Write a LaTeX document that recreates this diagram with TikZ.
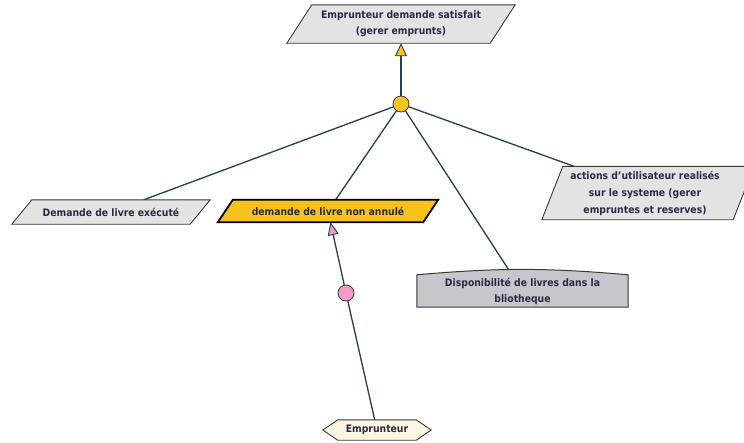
\documentclass[tikz,border=0pt]{standalone}
\usepackage{fontspec}
\setmainfont{DejaVu Sans Condensed}
\usetikzlibrary{arrows.meta}
\definecolor{linkcol}{HTML}{23404F}
\definecolor{edgecol}{HTML}{3A3A3A}
\definecolor{goalfill}{HTML}{E3E3E3}
\definecolor{selfill}{HTML}{F7C21B}
\definecolor{domfill}{HTML}{C6C6CC}
\definecolor{agentfill}{HTML}{FBF5E2}
\definecolor{andfill}{HTML}{F8C423}
\definecolor{opfill}{HTML}{F39BC6}
\definecolor{txtcol}{HTML}{2A2A44}
\pgfdeclarelayer{paper}
\pgfdeclarelayer{links}
\pgfdeclarelayer{shapes}
\pgfsetlayers{paper,links,shapes,main}

% outline of a slanted goal box around a text node
\newcommand\slantbox[3]{%
  \path[#3] ([xshift=#2]#1.north west) -- (#1.north east)
    -- ([xshift=-#2]#1.south east) -- (#1.south west) -- cycle;}
% outline of an agent hexagon around a text node
\newcommand\hexbox[3]{%
  \path[#3] (#1.west) -- ([xshift=#2]#1.north west) -- ([xshift=-#2]#1.north east)
    -- (#1.east) -- ([xshift=-#2]#1.south east) -- ([xshift=#2]#1.south west) -- cycle;}

\begin{document}
\begin{tikzpicture}[x=1pt,y=-1pt,
  txt/.style={inner sep=0pt, font=\bfseries\fontsize{10.3}{16}\selectfont, text=txtcol, align=center},
  goalshape/.style={fill=goalfill, draw=edgecol, line width=0.9pt},
  selshape/.style={fill=selfill, draw=black, line width=1.8pt, line join=miter},
  domshape/.style={fill=domfill, draw=edgecol, line width=1pt},
  agentshape/.style={fill=agentfill, draw=edgecol, line width=0.9pt},
  link/.style={draw=linkcol, line width=1.3pt},
  refine/.style={link, -{Triangle[length=13pt,width=12pt,line width=0.9pt,fill=andfill]}},
  assign/.style={link, -{Triangle[length=13pt,width=11pt,line width=0.9pt,fill=opfill]}},
  junction/.style={circle, minimum size=16pt, inner sep=0pt, draw=edgecol, line width=0.8pt}
]
\begin{pgfonlayer}{paper}
  \fill[white] (0,0) rectangle (744,442);
\end{pgfonlayer}
\useasboundingbox (0,0) rectangle (744,442);

% goals, domain property and agent
\node[txt, minimum width=228pt, minimum height=38pt] (top) at (401,24)
  {Emprunteur demande satisfait\\(gerer emprunts)};
\node[txt, minimum width=198pt, minimum height=24pt] (left) at (111,212)
  {Demande de livre exécuté};
\node[txt, minimum width=220pt, minimum height=22pt] (sel) at (328,211)
  {demande de livre non annulé};
\node[txt, minimum width=212pt, minimum height=53pt, font=\bfseries\fontsize{10.3}{17}\selectfont] (act) at (648,193)
  {\hspace*{-6pt}actions d'utilisateur realisés\\\hspace*{-6pt}sur le systeme (gerer\\\hspace*{-6pt}empruntes et reserves)};
\node[txt, minimum width=211pt, minimum height=32pt] (disp) at (522.5,291)
  {Disponibilité de livres dans la\\bliotheque};
\node[txt, minimum width=108pt, minimum height=20pt] (agent) at (377,430)
  {Emprunteur};

% refinement junctions
\node[junction, fill=andfill] (and) at (401,104) {};
\node[junction, fill=opfill] (op) at (346,293) {};

\begin{pgfonlayer}{shapes}
  \slantbox{top}{25pt}{goalshape}
  \slantbox{left}{20pt}{goalshape}
  \slantbox{sel}{15pt}{selshape}
  \slantbox{act}{21pt}{goalshape}
  \hexbox{agent}{15pt}{agentshape}
  \path[domshape] (disp.south west) -- (disp.north west)
    to[bend left=5] (disp.north east) -- (disp.south east) -- cycle;
\end{pgfonlayer}

\begin{pgfonlayer}{links}
  \draw[refine] (and) -- (top);
  \draw[link] (and) -- (left);
  \draw[link] (and) -- (sel);
  \draw[link] (and) -- (act);
  \draw[link] (and) -- (disp);
  \draw[link] (agent) -- (op);
  \draw[assign] (op) -- (sel);
\end{pgfonlayer}
\end{tikzpicture}
\end{document}
